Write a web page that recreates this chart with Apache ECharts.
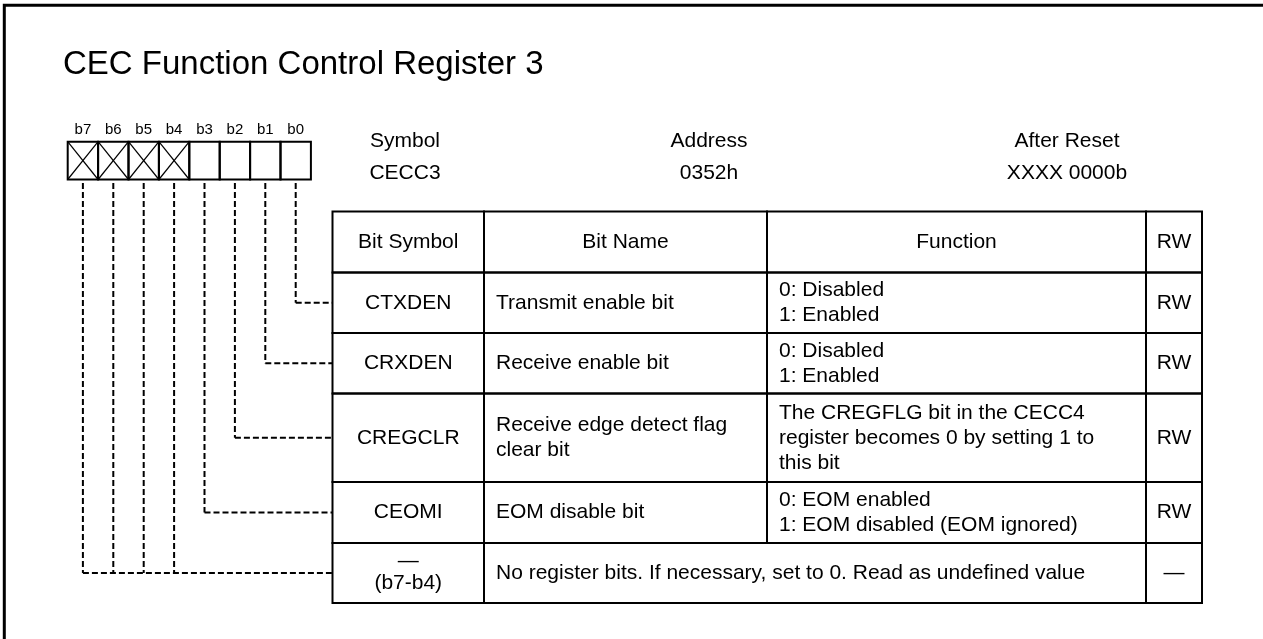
<!DOCTYPE html>
<html><head><meta charset="utf-8">
<script src="https://cdn.jsdelivr.net/npm/echarts@6/dist/echarts.min.js"></script>
<style>html,body{margin:0;padding:0;background:#fff}#c{width:1263px;height:639px}</style>
</head><body><div id="c"></div>
<script>
// ---------- data ----------
const titleText = 'CEC Function Control Register 3';
const bitLabels = ['b7', 'b6', 'b5', 'b4', 'b3', 'b2', 'b1', 'b0'];
const bitReserved = [true, true, true, true, false, false, false, false];
const infoLabels = ['Symbol', 'Address', 'After Reset'];
const infoValues = ['CECC3', '0352h', 'XXXX 0000b'];
const headers = ['Bit Symbol', 'Bit Name', 'Function', 'RW'];
const bitSymbols = ['CTXDEN', 'CRXDEN', 'CREGCLR', 'CEOMI', '—\n(b7-b4)'];
const bitNames = ['Transmit enable bit', 'Receive enable bit', 'Receive edge detect flag\nclear bit', 'EOM disable bit',
  'No register bits. If necessary, set to 0. Read as undefined value'];
const functions = ['0: Disabled\n1: Enabled', '0: Disabled\n1: Enabled',
  'The CREGFLG bit in the CECC4\nregister becomes 0 by setting 1 to\nthis bit',
  '0: EOM enabled\n1: EOM disabled (EOM ignored)', ''];
const rwAccess = ['RW', 'RW', 'RW', 'RW', '—'];
const rowBits = [['b0'], ['b1'], ['b2'], ['b3'], ['b7', 'b6', 'b5', 'b4']];

// ---------- layout (pixel units on hidden axes) ----------
const L = {
  W: 1263, H: 639,
  frame: { x: 4.3, y: 5.3, lw: 3 },
  bits: { x0: 67.7, w: 30.4, top: 141.7, bottom: 179.5, labelY: 130, dashStart: 183 },
  info: { x: [405, 709, 1067], y1: 141, y2: 173 },
  cols: [332.5, 484, 767, 1146, 1202],
  rows: [211.5, 272.5, 333, 393.5, 482, 543, 603],
  nameX: 496, funcX: 779,
  lineH: 25
};
const FONT = "'Liberation Sans', Arial, Helvetica, sans-serif";
const TXT = 21, BITTXT = 15, TITLETXT = 33;
const DASH = [6, 3];

const chart = echarts.init(document.getElementById('c'), null, { renderer: 'canvas' });

function txt(api, s, x, y, align, size, lh) {
  const p = api.coord([x, y]);
  return { type: 'text', silent: true, style: {
    text: s, x: p[0], y: p[1], fill: '#000', align: align || 'center', verticalAlign: 'middle',
    fontSize: size || TXT, fontFamily: FONT, lineHeight: lh || L.lineH } };
}
function rect(api, x1, y1, x2, y2, lw) {
  const a = api.coord([x1, y1]), b = api.coord([x2, y2]);
  return { type: 'rect', silent: true, shape: { x: a[0], y: a[1], width: b[0] - a[0], height: b[1] - a[1] },
    style: { fill: 'none', stroke: '#000', lineWidth: lw || 2 } };
}
function line(api, x1, y1, x2, y2, lw, dash) {
  const a = api.coord([x1, y1]), b = api.coord([x2, y2]);
  return { type: 'line', silent: true, shape: { x1: a[0], y1: a[1], x2: b[0], y2: b[1] },
    style: { stroke: '#000', lineWidth: lw || 2, lineDash: dash || null } };
}
function bitCenter(label) {
  const k = bitLabels.indexOf(label);
  return L.bits.x0 + L.bits.w * (k + 0.5);
}

// frame + info texts
function renderFrame(params, api) {
  const ch = [];
  const a = api.coord([L.frame.x, L.frame.y]);
  ch.push({ type: 'polyline', silent: true, shape: { points: [[a[0], L.H + 20], [a[0], a[1]], [L.W + 20, a[1]]] },
    style: { fill: 'none', stroke: '#000', lineWidth: L.frame.lw } });
  infoLabels.forEach((s, i) => {
    ch.push(txt(api, s, L.info.x[i], L.info.y1, 'center'));
    ch.push(txt(api, infoValues[i], L.info.x[i], L.info.y2, 'center'));
  });
  return { type: 'group', children: ch };
}

// bit boxes
function renderBits(params, api) {
  const i = params.dataIndex;
  const x1 = L.bits.x0 + L.bits.w * i, x2 = x1 + L.bits.w;
  const ch = [rect(api, x1, L.bits.top, x2, L.bits.bottom, 2)];
  if (bitReserved[i]) {
    ch.push(line(api, x1, L.bits.top, x2, L.bits.bottom, 1.2));
    ch.push(line(api, x2, L.bits.top, x1, L.bits.bottom, 1.2));
  }
  ch.push(txt(api, bitLabels[i], (x1 + x2) / 2, L.bits.labelY, 'center', BITTXT));
  return { type: 'group', children: ch };
}

// table rows (index 0 = header)
function renderRow(params, api) {
  const r = params.dataIndex;
  const y1 = L.rows[r], y2 = L.rows[r + 1], ym = (y1 + y2) / 2;
  const c = L.cols;
  const ch = [];
  if (r === 0) {
    for (let k = 0; k < 4; k++) {
      ch.push(rect(api, c[k], y1, c[k + 1], y2));
      ch.push(txt(api, headers[k], (c[k] + c[k + 1]) / 2, ym, 'center'));
    }
    return { type: 'group', children: ch };
  }
  const d = r - 1;
  const multi = bitSymbols[d].indexOf('\n') >= 0;
  ch.push(rect(api, c[0], y1, c[1], y2));
  ch.push(txt(api, bitSymbols[d], (c[0] + c[1]) / 2, ym + (multi ? -1 : 0), 'center', TXT, multi ? 22 : L.lineH));
  if (functions[d]) {
    ch.push(rect(api, c[1], y1, c[2], y2));
    ch.push(rect(api, c[2], y1, c[3], y2));
    ch.push(txt(api, bitNames[d], L.nameX, ym, 'left'));
    ch.push(txt(api, functions[d], L.funcX, ym, 'left'));
  } else {
    ch.push(rect(api, c[1], y1, c[3], y2));
    ch.push(txt(api, bitNames[d], L.nameX, ym, 'left'));
  }
  ch.push(rect(api, c[3], y1, c[4], y2));
  ch.push(txt(api, rwAccess[d], (c[3] + c[4]) / 2, ym, 'center'));
  // dashed connectors from bits to this row
  const xs = rowBits[d].map(bitCenter);
  xs.forEach(x => ch.push(line(api, x, L.bits.dashStart, x, ym, 2, DASH)));
  ch.push(line(api, Math.min.apply(null, xs), ym, c[0], ym, 2, DASH));
  return { type: 'group', children: ch };
}

const rowData = [0].concat(bitSymbols.map((s, i) => i + 1)).map(i => [i, 0]);

chart.setOption({
  animation: false,
  backgroundColor: '#fff',
  title: { text: titleText, left: 63, top: 48, padding: 0,
    textStyle: { fontSize: TITLETXT, fontWeight: 'normal', color: '#000', fontFamily: FONT } },
  grid: { left: 0, right: 0, top: 0, bottom: 0 },
  xAxis: { type: 'value', min: 0, max: L.W, show: false },
  yAxis: { type: 'value', min: 0, max: L.H, inverse: true, show: false },
  series: [
    { type: 'custom', coordinateSystem: 'cartesian2d', clip: false, silent: true, renderItem: renderFrame, data: [[0, 0]] },
    { type: 'custom', coordinateSystem: 'cartesian2d', clip: false, silent: true, renderItem: renderBits,
      data: bitLabels.map((b, i) => [i, 0]) },
    { type: 'custom', coordinateSystem: 'cartesian2d', clip: false, silent: true, renderItem: renderRow, data: rowData }
  ]
});
</script></body></html>
